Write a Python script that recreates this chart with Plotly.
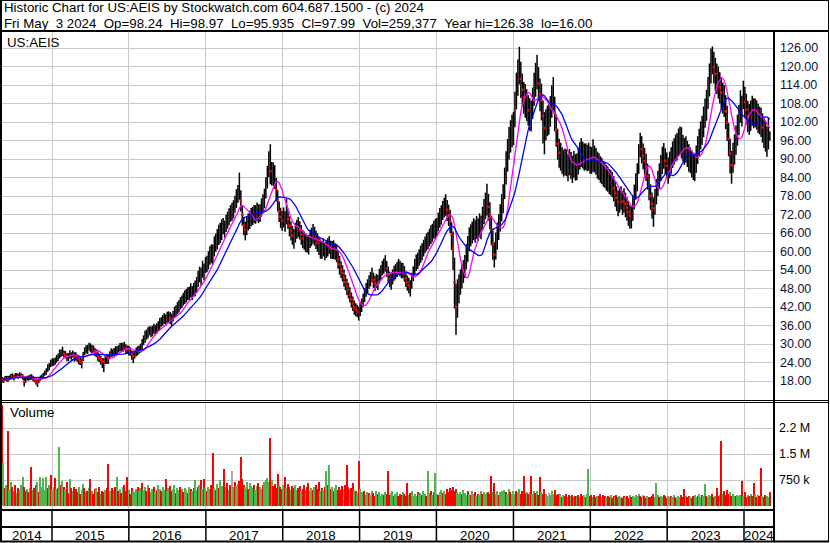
import numpy as np
import pandas as pd
import plotly.graph_objects as go

# ---------------- data (weekly) ----------------
close = [
 18.5, 18.2, 18.9, 18.9, 18.5, 19.0, 19.6, 19.5, 19.2, 19.9,
 19.8, 19.4, 20.1, 19.7, 19.5, 17.8, 18.4, 19.0, 18.8, 19.3,
 19.2, 18.9, 18.4, 18.0, 17.5, 18.2, 18.8, 19.5, 19.9, 20.4,
 21.0, 22.1, 22.8, 23.5, 24.3, 24.0, 24.6, 25.0, 25.8, 26.4,
 26.9, 27.5, 26.8, 26.3, 26.0, 25.8, 26.4, 26.2, 26.6, 25.9,
 26.0, 25.5, 25.0, 24.6, 24.0, 25.8, 27.5, 28.3, 28.0, 29.0,
 28.6, 28.4, 28.1, 27.6, 27.0, 26.2, 25.5, 24.9, 24.4, 24.0,
 24.8, 25.5, 25.1, 26.5, 27.2, 27.0, 27.6, 27.9, 28.0, 28.5,
 28.9, 29.1, 28.8, 29.3, 28.7, 28.2, 27.9, 27.5, 26.8, 26.0,
 26.7, 27.3, 27.9, 28.2, 28.5, 29.8, 31.2, 32.3, 33.0, 33.6,
 34.2, 33.9, 34.5, 34.9, 34.6, 35.0, 35.8, 36.4, 37.0, 37.6,
 38.2, 38.0, 38.5, 38.9, 38.3, 38.0, 39.0, 40.1, 40.8, 41.5,
 42.3, 43.0, 43.9, 44.5, 45.1, 45.8, 46.2, 46.5, 47.2, 46.8,
 47.5, 48.0, 49.5, 50.8, 52.6, 52.0, 54.0, 53.6, 55.3, 56.0,
 57.2, 58.4, 59.6, 59.2, 61.5, 62.8, 64.0, 65.1, 66.2, 67.0,
 68.2, 67.5, 69.0, 70.3, 71.0, 72.4, 73.0, 73.5, 75.2, 77.0,
 78.6, 80.0, 76.5, 72.0, 68.5, 67.0, 68.2, 69.5, 70.3, 71.0,
 71.5, 72.3, 71.8, 73.0, 72.2, 72.5, 74.0, 75.6, 77.0, 80.5,
 84.0, 88.0, 86.0, 85.0, 85.3, 84.5, 80.0, 76.5, 73.0, 71.2,
 70.0, 70.8, 69.8, 72.0, 70.5, 68.4, 66.8, 65.2, 64.5, 66.0,
 67.3, 68.0, 66.9, 65.5, 64.2, 63.5, 63.0, 62.7, 62.3, 64.2,
 64.8, 65.3, 65.0, 64.0, 62.8, 61.9, 61.0, 60.5, 61.2, 60.3,
 60.8, 61.4, 62.0, 60.8, 60.5, 60.8, 60.1, 59.5, 57.6, 55.8,
 54.2, 53.0, 51.5, 50.0, 48.7, 47.5, 46.0, 44.5, 43.1, 42.0,
 41.2, 40.5, 40.0, 41.0, 42.5, 44.0, 45.8, 47.3, 48.6, 50.0,
 51.0, 52.2, 50.8, 49.6, 50.5, 50.0, 51.8, 53.2, 54.5, 55.3,
 56.0, 54.5, 52.6, 51.2, 50.5, 51.8, 52.9, 53.6, 54.0, 55.1,
 54.6, 53.8, 54.0, 52.8, 51.3, 50.0, 49.0, 48.4, 50.5, 52.8,
 55.0, 56.2, 57.1, 58.0, 59.0, 60.1, 61.0, 62.2, 62.9, 63.6,
 64.5, 65.4, 66.2, 67.0, 67.4, 68.0, 69.5, 70.8, 72.0, 73.2,
 74.1, 75.0, 73.5, 71.8, 70.0, 65.5, 61.0, 50.0, 42.0, 45.0,
 48.0, 50.2, 52.0, 53.6, 55.0, 58.2, 61.0, 64.0, 65.3, 66.0,
 67.2, 66.5, 68.0, 67.0, 68.5, 68.0, 70.5, 72.8, 74.6, 76.0,
 74.5, 72.0, 67.0, 62.5, 59.0, 62.0, 65.0, 68.0, 71.0, 74.0,
 77.0, 82.0, 87.0, 91.5, 95.0, 97.5, 98.8, 100.0, 106.0, 112.0,
 116.5, 120.0, 116.0, 112.5, 110.0, 109.0, 107.5, 105.8, 104.6, 104.0,
 108.0, 112.5, 115.8, 118.0, 114.5, 111.0, 109.0, 104.0, 100.0, 101.2,
 102.3, 103.0, 105.5, 108.6, 111.0, 105.0, 99.5, 95.0, 92.0, 90.8,
 89.6, 88.5, 89.2, 88.7, 87.4, 88.9, 87.8, 86.9, 88.2, 87.5,
 87.6, 89.3, 90.8, 92.0, 91.3, 90.5, 90.9, 90.2, 90.6, 89.8,
 89.5, 90.4, 90.0, 89.1, 88.2, 87.5, 86.8, 86.0, 85.4, 84.7,
 84.0, 83.4, 82.9, 82.3, 82.0, 80.5, 79.0, 77.4, 76.0, 76.8,
 77.5, 76.2, 76.7, 75.5, 74.2, 72.8, 71.7, 71.0, 74.0, 77.5,
 81.0, 84.0, 90.0, 95.0, 93.2, 91.0, 89.3, 87.6, 84.5, 81.2,
 78.0, 75.5, 74.0, 76.5, 79.5, 82.0, 84.5, 87.0, 89.5, 91.0,
 89.4, 87.8, 86.5, 88.0, 89.6, 91.2, 92.4, 93.3, 94.0, 95.2,
 96.0, 94.8, 93.5, 92.6, 93.0, 91.8, 90.5, 89.7, 88.6, 88.0,
 87.6, 90.0, 92.8, 95.3, 97.4, 99.0, 101.8, 104.5, 107.0, 111.0,
 115.5, 120.0, 122.5, 119.8, 117.6, 116.2, 115.0, 113.2, 111.5, 110.0,
 109.0, 105.5, 101.8, 96.5, 91.8, 88.0, 90.5, 93.0, 96.0, 99.2,
 102.5, 107.0, 105.5, 111.6, 108.5, 106.0, 104.0, 102.8, 104.3, 105.6,
 104.9, 105.0, 104.1, 103.2, 102.5, 101.8, 100.2, 98.8, 97.4, 96.0,
 98.6, 97.99,
]

# weekly high minus close
hi_off = [
 0.8,0.9,0.7,0.8,1.1,0.8,0.7,1.0,0.8,0.7, 0.8,1.0,0.7,0.8,0.7,1.2,0.8,0.7,1.0,0.8,
 1.0,0.8,0.7,0.8,1.0,0.8,1.0,0.7,0.8,1.0, 1.1,1.3,1.0,1.4,1.1,1.3,1.0,1.4,1.1,1.8,
 1.3,1.6,1.1,1.4,1.0,1.3,1.6,1.1,1.3,1.4, 1.3,1.1,1.4,1.0,1.3,1.6,1.4,1.3,1.7,1.4,
 1.6,1.3,1.4,1.1,1.3,1.4,1.1,1.3,1.0,1.4, 1.4,1.3,1.6,1.1,1.4,1.3,1.1,1.4,1.3,1.1,
 1.4,1.3,1.6,1.4,1.1,1.3,1.6,1.4,1.1,1.3, 1.3,1.6,1.4,1.3,1.6,1.8,1.6,2.0,1.7,1.8,
 1.6,1.8,1.4,1.7,1.6,1.8,1.6,2.0,1.7,1.8, 1.8,1.6,2.0,1.7,2.1,1.8,1.7,2.0,1.8,2.1,
 2.0,2.2,1.8,2.1,2.3,2.0,2.2,2.1,2.5,2.0, 2.3,2.6,2.2,2.9,2.5,2.7,3.0,2.5,2.9,2.6,
 2.9,3.3,2.7,3.1,3.4,3.0,3.3,3.6,3.1,3.4, 2.7,2.5,2.9,2.6,3.0,2.7,2.8,3.1,2.9,3.2,
 3.0,5.6,3.4,3.0,2.8,2.7,3.0,2.8,2.9,3.1, 3.0,2.8,3.2,2.9,3.1,2.8,3.2,3.0,3.4,3.6,
 3.8,4.5,8.8,4.0,3.6,3.5,3.8,3.4,3.2,3.0, 3.1,3.5,3.3,5.0,3.2,3.0,2.9,3.1,2.8,3.3,
 3.0,3.2,2.9,3.1,2.8,3.0,2.9,2.7,3.1,2.8, 2.9,3.6,3.0,2.8,3.1,2.7,2.9,2.8,3.0,2.7,
 2.8,2.9,3.0,2.7,2.9,2.8,2.6,2.9,2.7,2.8, 2.6,2.5,2.7,2.4,2.5,2.3,2.4,2.2,2.3,2.1,
 2.0,2.2,2.1,2.3,2.2,2.4,2.3,2.5,2.4,2.3, 2.4,2.6,2.3,2.5,2.2,2.4,2.6,2.3,2.5,2.4,
 2.8,2.4,2.5,2.3,2.6,2.4,2.5,2.3,2.6,2.5, 2.4,2.6,2.3,2.5,2.4,2.2,2.5,2.3,2.6,2.4,
 2.6,2.8,2.5,2.7,2.9,2.6,2.8,2.7,3.0,2.8, 2.9,3.1,2.8,3.0,3.2,2.9,3.1,3.3,3.0,3.2,
 3.3,3.6,3.2,3.4,3.5,4.0,5.5,8.0,7.5,6.0, 4.5,4.0,3.8,3.6,3.9,4.2,4.0,3.8,3.5,3.7,
 3.6,3.8,3.5,3.7,3.9,3.6,4.0,4.2,4.5,6.0, 4.2,4.0,4.5,4.3,4.0,4.2,4.4,4.1,4.3,4.6,
 4.8,5.2,5.5,5.0,5.4,5.1,5.6,5.3,5.8,6.0, 5.8,6.4,5.5,5.2,5.0,5.3,5.1,4.9,5.2,5.0,
 5.2,5.5,5.4,5.8,5.3,5.1,5.4,5.0,5.2,4.9, 5.0,5.2,4.9,5.3,5.6,5.2,5.0,4.8,4.6,4.5,
 4.3,4.5,4.2,4.4,4.1,4.3,4.5,4.2,4.4,4.1, 4.2,4.4,4.6,4.8,4.3,4.5,4.2,4.4,4.7,4.3,
 4.4,6.0,4.3,4.5,4.2,4.4,4.1,4.3,4.0,4.2, 4.0,4.2,3.9,4.1,3.8,4.0,3.9,3.7,3.8,3.6,
 3.7,3.5,3.8,3.6,3.4,3.5,3.3,3.6,4.0,4.2, 4.4,4.6,4.8,3.5,4.2,4.0,4.3,4.1,4.0,3.9,
 3.8,3.6,3.5,3.8,4.0,4.2,4.1,4.3,4.5,4.2, 4.1,4.3,4.0,4.4,4.2,4.5,4.3,4.6,4.4,4.7,
 4.5,5.5,4.3,4.2,4.4,4.1,4.3,4.0,4.2,4.1, 4.2,4.4,4.6,4.5,4.8,5.0,5.2,5.1,5.4,5.6,
 5.5,5.8,4.0,5.0,5.2,4.8,5.0,4.9,5.1,4.8, 5.0,5.2,5.5,5.1,4.8,4.6,4.8,5.0,4.9,5.2,
 5.1,5.3,5.0,3.8,4.9,5.2,4.8,5.0,4.7,4.9, 4.8,4.6,4.9,4.7,4.5,4.8,4.6,4.4,4.7,4.5,
 4.6,0.98,
]

# weekly close minus low
lo_off = [
 1.0,0.8,0.7,1.0,0.8,0.7,1.1,0.8,1.0,0.8, 0.8,0.7,1.0,0.8,1.1,1.6,1.0,0.8,0.7,1.0,
 0.8,1.0,0.8,1.1,1.4,0.8,0.7,1.0,0.8,0.7, 1.0,1.1,1.3,1.0,1.4,1.1,1.3,1.0,1.4,1.1,
 1.1,1.4,1.3,1.0,1.6,1.4,1.1,1.3,1.0,1.6, 1.4,1.3,1.6,1.4,1.9,1.3,1.1,1.4,1.3,1.1,
 1.3,1.4,1.1,1.6,1.3,1.8,1.4,1.6,2.2,3.2, 1.3,1.9,1.6,1.3,1.4,1.1,1.6,1.3,1.4,1.3,
 1.3,1.6,1.4,1.3,1.8,1.4,1.6,1.3,1.9,2.2, 1.4,1.3,1.6,1.4,1.3,1.8,1.6,1.9,1.6,1.8,
 1.4,1.7,2.0,1.6,1.8,1.7,1.6,1.8,1.4,1.7, 1.7,2.1,1.6,2.0,1.8,2.2,1.7,1.6,2.0,1.8,
 2.1,1.8,2.2,2.0,2.1,2.3,2.0,2.2,2.1,2.5, 2.2,2.5,2.7,2.3,2.6,3.0,2.5,2.9,2.3,2.7,
 3.0,2.7,3.4,3.6,3.1,2.9,3.3,3.0,3.5,3.3, 2.6,3.0,2.7,2.9,2.5,2.8,3.0,2.7,2.6,2.9,
 2.8,3.2,3.5,3.6,3.2,3.4,2.9,2.7,3.0,2.8, 2.9,3.1,2.8,3.2,3.0,2.9,2.7,3.1,3.0,3.3,
 3.5,3.8,4.2,3.6,3.9,4.2,3.8,3.5,3.4,3.6, 3.3,3.0,3.4,3.2,3.1,3.5,3.2,3.0,3.6,3.1,
 3.2,3.4,3.0,3.3,3.1,2.9,3.2,3.0,3.3,3.1, 3.0,2.8,3.1,3.2,2.9,3.0,3.3,2.9,2.8,3.1,
 2.9,3.0,2.8,3.1,2.9,3.2,2.8,3.0,3.2,3.3, 2.8,2.7,2.9,2.6,2.8,2.7,2.5,2.6,2.4,2.5,
 2.2,1.8,2.4,2.0,2.1,1.9,2.2,2.0,2.3,2.1, 2.3,2.2,2.6,2.4,2.3,2.5,2.2,2.4,2.3,2.5,
 2.5,2.7,2.6,2.8,2.9,2.5,2.4,2.6,2.3,2.5, 2.6,2.5,2.7,2.6,2.8,2.7,2.5,3.0,2.6,2.4,
 2.7,2.5,2.8,2.6,2.7,2.9,2.6,2.8,2.7,2.9, 2.8,3.0,3.1,2.9,3.2,3.0,2.9,3.1,3.3,3.0,
 3.1,3.4,3.6,3.5,4.0,5.0,7.0,8.5,9.0,6.5, 4.8,4.2,4.0,3.8,3.6,4.0,4.3,3.9,3.6,3.4,
 3.5,3.7,3.9,3.6,3.8,4.0,3.7,3.9,4.1,4.3, 4.5,4.8,5.0,5.2,4.2,4.6,4.4,4.3,4.5,4.2,
 4.6,5.0,5.3,5.6,5.2,5.4,5.0,5.5,5.7,5.9, 6.0,5.8,6.2,5.5,5.3,5.6,5.2,5.0,5.4,5.1,
 5.0,5.3,5.6,5.4,5.7,5.5,6.5,9.0,8.5,5.2, 4.9,5.1,5.0,5.2,5.4,6.0,5.5,5.2,4.8,4.6,
 4.4,4.2,4.5,4.3,4.6,4.2,4.4,4.7,4.3,4.5, 4.5,4.3,4.2,4.6,4.4,4.3,4.5,4.2,4.4,4.6,
 4.3,4.5,4.4,4.2,4.6,4.3,4.5,4.2,4.4,4.1, 4.2,4.0,4.3,4.1,4.4,4.2,4.5,4.3,4.6,4.2,
 4.0,4.3,4.1,4.4,4.2,4.5,4.3,3.5,4.0,3.8, 4.2,4.5,4.8,4.4,4.6,4.3,4.5,4.7,4.4,4.6,
 4.5,4.8,6.0,4.6,4.2,4.0,4.3,4.1,4.4,4.2, 4.3,4.1,4.5,4.2,4.4,4.1,4.3,4.2,4.5,4.3,
 4.4,4.6,4.3,4.5,4.2,4.4,4.6,4.3,4.5,4.8, 4.8,4.5,4.4,4.6,4.3,4.5,4.7,4.4,4.6,4.8,
 5.2,5.5,5.0,5.3,5.6,5.1,5.4,5.2,5.5,5.3, 5.4,5.8,6.0,5.6,6.5,6.0,5.0,4.8,4.6,4.9,
 4.8,5.2,5.0,5.4,5.1,4.9,5.3,5.0,5.2,4.8, 4.9,4.7,4.6,4.8,4.5,4.7,4.9,5.2,5.0,5.3,
 5.5,2.06,
]

# weekly volume, thousands of shares
volume_k = [
 2900,1240,520,610,2160,480,700,550,430,620, 380,510,450,600,840,560,420,480,390,530,
 1120,470,520,600,690,410,850,560,820,470, 830,510,620,880,450,560,820,480,530,1700,
 610,720,540,460,690,380,770,520,430,560, 480,410,560,350,470,640,520,390,440,510,
 770,420,360,480,530,410,560,350,440,390, 470,520,1200,430,380,510,460,560,850,420,
 490,380,540,610,430,850,470,360,520,440, 390,480,560,420,510,650,470,540,440,600,
 520,410,480,560,390,470,610,500,430,540, 460,780,420,510,570,440,490,620,380,530,
 450,560,480,410,520,470,380,550,490,430, 510,760,470,540,610,760,480,770,520,440,
 560,490,620,1530,510,470,640,530,740,590, 480,1070,560,650,470,610,1000,540,700,590,
 640,710,1400,780,620,550,690,480,660,590, 520,610,470,580,650,540,490,620,700,760,
 820,690,1960,760,580,640,520,910,610,560, 480,600,830,520,640,560,470,590,510,620,
 450,530,580,420,500,610,470,540,650,430, 510,460,550,600,480,700,420,530,470,560,
 1000,620,1170,480,560,430,510,610,470,540, 450,580,500,620,1170,560,480,530,650,470,
 440,380,1290,490,400,360,430,330,390,370, 330,420,370,300,440,340,390,290,360,320,
 400,360,1020,330,380,440,300,360,410,290, 350,320,400,360,300,650,330,370,440,300,
 360,290,410,340,380,310,440,350,300,1000, 370,420,320,400,940,360,330,410,460,380,
 440,350,490,400,530,460,540,420,490,390, 360,410,340,460,370,320,420,360,310,440,
 340,390,290,360,320,420,350,400,340,370, 410,350,870,410,650,360,420,330,390,440,
 370,460,410,350,480,390,340,420,360,440, 400,490,360,420,870,370,410,340,390,870,
 350,420,370,440,320,850,400,360,490,340, 300,370,320,420,350,460,310,360,300,340,
 270,320,290,350,260,310,280,330,250,300, 280,320,260,350,290,310,250,340,1060,280,
 310,270,330,250,300,280,350,260,320,290, 250,300,270,330,230,290,260,320,250,290,
 270,230,300,250,280,240,310,260,290,250, 320,290,350,300,260,330,280,240,300,270,
 250,290,340,270,650,310,260,290,250,320, 280,240,300,260,290,250,310,270,230,290,
 260,320,250,500,280,260,300,270,240,290, 320,260,290,350,250,310,280,640,300,260,
 320,290,350,260,300,520,280,330,1870,360, 420,320,460,360,390,290,340,300,280,320,
 290,330,720,300,390,270,320,290,350,280, 650,310,270,330,290,1100,300,260,320,290,
 250,400,
]

# volume bar colour per week as seen: G = up, R = down, N = unchanged
vol_dir = (
 "RGRGRGGRGR" "GRGGGRRGRG" "RGRRGRGGGG" "GRGRGGRGRG" "RGRGRRGRGR"
 "RRGRGGRGRG" "RGRRGRRGRR" "GRRGGRGRGR" "GRGRRRGRRG" "GGRGGRGGRG"
 "RGGRGRGGRG" "GRGGRRGGRG" "GRGRGGRGRG" "RGGRGRGRGR" "GGRRGRGRGG"
 "GRGRGRNGRG" "GRRRRGGRGG" "GRGGRGGRGG" "GGRGRRRRGR" "RGRGRRGRRG"
 "GRRGRRGRRG" "GRGRRRGRGR" "GRGRGRGGRR" "RRGRRRGRRG" "RGRGGGRGGR"
 "GGRRGRGGGR" "GRRRGGRGGR" "RRGRRRGRGG" "GGRGGRGGRG" "GRGRGGRGGR"
 "GRRRRRRRRG" "GGRGGGRGRG" "GRGRGGRGGG" "RRRGRGGRGG" "GGRGGRGGGR"
 "GGRRRRGRGR" "GGRGRRGRRG" "GNGGGRRRRG" "RGRRGRGRGR" "GRGRRGRGGR"
 "RGRRGRRGRR" "GRRGRRGRRG" "GRRGRRGRGG" "GGGRRNRRGR" "RRRGGGRGGR"
 "RRGGRGGRGG" "GRRRGRRGRR" "GGRGGRGGRG" "GGRRGRRGRG" "RRRRGRGGRG"
 "GGRGRRGRGR" "RGRGRRGRRG" "GR"
)

price_ticks = [18, 24, 30, 36, 42, 48, 54, 60, 66, 72, 78, 84, 90, 96, 102, 108, 114, 120, 126]
vol_tickvals = [750000, 1500000, 2250000]
vol_ticktext = ["750 k", "1.5 M", "2.2 M"]
years = [2014, 2015, 2016, 2017, 2018, 2019, 2020, 2021, 2022, 2023, 2024]
title1 = "Historic Chart for US:AEIS by Stockwatch.com 604.687.1500 - (c) 2024"
title2 = ("Fri May  3 2024  Op=98.24  Hi=98.97  Lo=95.935  Cl=97.99  "
          "Vol=259,377  Year hi=126.38  lo=16.00")
ma_fast, ma_slow = 10, 20

# ---------------- derived ----------------
n = len(close)
close = np.array(close, dtype=float)
high = close + np.array(hi_off[:n], dtype=float)
low = close - np.array(lo_off[:n], dtype=float)
vol = np.array(volume_k[:n], dtype=float) * 1000
dates = pd.date_range(end="2024-05-03", periods=n, freq="W-FRI")
prev = np.concatenate([[np.inf], close[:-1]])
cmap = {"G": "#4fb64f", "R": "#ff0000", "N": "#a8a8a8"}
vcol = [cmap[c] for c in vol_dir[:n]]
ma1 = pd.Series(close).rolling(ma_fast, min_periods=1).mean()
ma2 = pd.Series(close).rolling(ma_slow, min_periods=1).mean()

W, H = 830, 543
def fx(px):
    return px / W
def fy(py):
    return 1 - py / H

# x axis calibration: Jan 1 2015 at px 52, Jan 1 2024 at px 744
j15, j24 = pd.Timestamp("2015-01-01"), pd.Timestamp("2024-01-01")
ppd = (744 - 52) / (j24 - j15).days
x_left, x_right = 1, 773
t0 = j15 - pd.Timedelta(days=(52 - x_left) / ppd)
t1 = j24 + pd.Timedelta(days=(x_right - 744) / ppd)

# price axis calibration: 18 at py 381, 126 at py 48
pps = (381 - 48) / (126 - 18)
def price_at(py):
    return 18 + (381 - py) / pps
p_top, p_bot = 31, 400
# volume axis: 0 at py 506, 750k per 26 px
v_top, v_bot = 402, 509
vpp = 750000 / 26
vrange = [-(v_bot - 506) * vpp, (506 - v_top) * vpp]

# bar segments
xs, ys = [], []
for d, lo, hi in zip(dates, low, high):
    xs += [d, d, None]
    ys += [lo, hi, None]
drop = close < prev * 0.985

font = "Liberation Sans, Arial, sans-serif"
fig = go.Figure()
fig.add_trace(go.Scatter(x=xs, y=ys, mode="lines", line=dict(color="black", width=1.5),
                         hoverinfo="skip", xaxis="x", yaxis="y"))
fig.add_trace(go.Scatter(x=dates[drop], y=close[drop], mode="markers",
                         marker=dict(color="#ff0000", size=2.5, symbol="square"),
                         xaxis="x", yaxis="y"))
fig.add_trace(go.Scatter(x=dates, y=ma1, mode="lines", line=dict(color="#ff00ff", width=1.3),
                         xaxis="x", yaxis="y"))
fig.add_trace(go.Scatter(x=dates, y=ma2, mode="lines", line=dict(color="#0000ff", width=1.3),
                         xaxis="x", yaxis="y"))
fig.add_trace(go.Bar(x=dates, y=vol, marker=dict(color=vcol, line=dict(width=0)),
                     width=6.5 * 86400000, xaxis="x2", yaxis="y2"))

year_starts = [pd.Timestamp(f"{y}-01-01") for y in years[1:]]
grid = "#c8c8c8"
fig.update_layout(
    width=W, height=H, margin=dict(l=0, r=0, t=0, b=0),
    paper_bgcolor="white", plot_bgcolor="white", showlegend=False,
    font=dict(family=font, color="black", size=13),
    bargap=0,
    xaxis=dict(domain=[fx(x_left), fx(x_right)], range=[t0, t1], type="date",
               tickvals=year_starts, showticklabels=False, showgrid=True,
               gridcolor=grid, gridwidth=1, zeroline=False, showline=False,
               anchor="y"),
    xaxis2=dict(domain=[fx(x_left), fx(x_right)], range=[t0, t1], type="date",
                tickvals=year_starts, showticklabels=False, showgrid=True,
                gridcolor=grid, gridwidth=1, zeroline=False, showline=False,
                anchor="y2", matches="x"),
    yaxis=dict(domain=[fy(p_bot), fy(p_top)], range=[price_at(p_bot), price_at(p_top)],
               side="right", tickvals=price_ticks, tickformat=".2f",
               showgrid=True, gridcolor=grid, gridwidth=1, zeroline=False,
               ticks="", ticklabelstandoff=6, anchor="x",
               tickfont=dict(family=font, size=12.5, color="#101038")),
    yaxis2=dict(domain=[fy(v_bot), fy(v_top)], range=vrange, side="right",
                tickvals=vol_tickvals, ticktext=vol_ticktext,
                showgrid=True, gridcolor=grid, gridwidth=1, zeroline=False,
                ticks="", ticklabelstandoff=5, anchor="x2",
                tickfont=dict(family=font, size=12.5, color="black")),
)

shapes = []
def pline(x0, y0, x1, y1, w=1):
    shapes.append(dict(type="line", xref="paper", yref="paper",
                       x0=fx(x0), y0=fy(y0), x1=fx(x1), y1=fy(y1),
                       line=dict(color="black", width=w)))
pline(0, 0.5, 829, 0.5, 1)          # top border
pline(1, 0, 1, 542, 2)              # left border
pline(828.5, 0, 828.5, 542, 1)      # right border
pline(0, 31, 829, 31, 2)            # under title
pline(774, 31, 774, 542, 2)         # plot / axis divider
pline(0, 400.5, 829, 400.5, 1)      # double line between panels
pline(0, 402.5, 829, 402.5, 1)
pline(0, 510, 774, 510, 2)
pline(0, 527, 774, 527, 2)
pline(0, 541.5, 829, 541.5, 2)
for ys_ in year_starts:
    shapes.append(dict(type="line", xref="x", yref="paper", x0=ys_, x1=ys_,
                       y0=fy(511), y1=fy(541), line=dict(color="black", width=1.5)))
fig.update_layout(shapes=shapes)

ann = []
def text(x, y, s, size=13.3, anchor="left", color="black"):
    ann.append(dict(text=s.replace("  ", "\u00a0\u00a0"), x=fx(x), y=fy(y), xref="paper", yref="paper",
                    xanchor=anchor, yanchor="middle", showarrow=False,
                    font=dict(family=font, size=size, color=color)))
text(2, 7.5, title1)
text(2, 23.5, title2)
text(5, 42, "US:AEIS")
text(8, 413, "Volume")
for y in years:
    a = max(pd.Timestamp(f"{y}-01-01"), t0)
    b = min(pd.Timestamp(f"{y + 1}-01-01"), t1)
    mid = a + (b - a) / 2
    ann.append(dict(text=str(y), x=mid, y=fy(535), xref="x", yref="paper",
                    xanchor="center", yanchor="middle", showarrow=False,
                    font=dict(family=font, size=13.3, color="black")))
fig.update_layout(annotations=ann)

fig.write_html("out.html", config={"displayModeBar": False},
               post_script="document.body.style.margin='0px';document.body.style.padding='0px';"
                           "document.body.style.overflow='hidden';")
